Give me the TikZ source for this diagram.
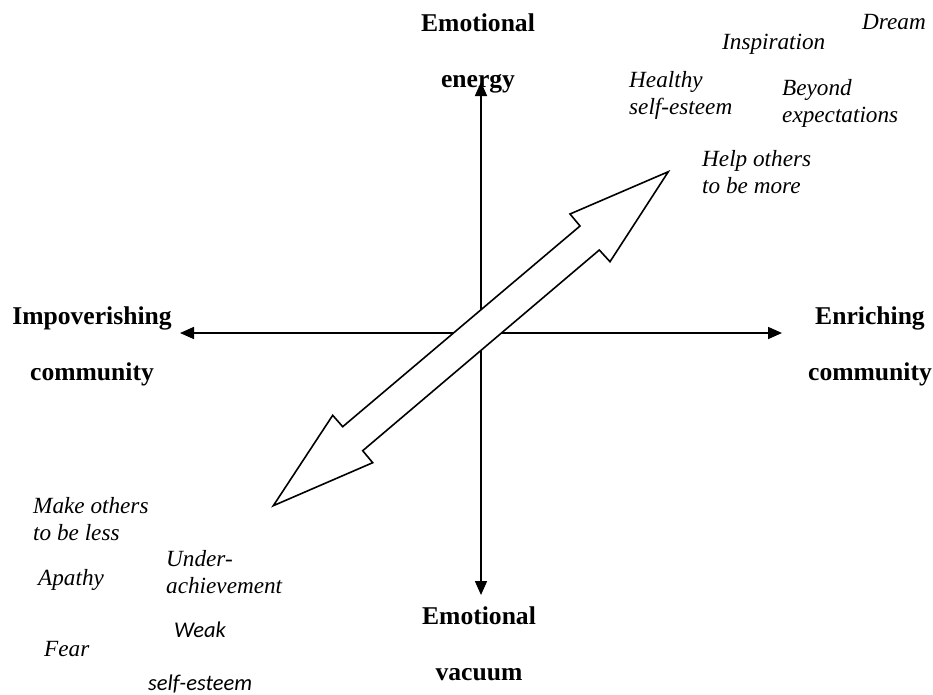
\documentclass[tikz,border=0pt]{standalone}
\usepackage{fontspec}
\setmainfont{Liberation Serif}
\newfontfamily\notesans{Carlito}
\usetikzlibrary{arrows.meta}
\begin{document}
\begin{tikzpicture}[x=1pt,y=-1pt,
  axis/.style={line width=1.6pt,
    {Triangle[length=14pt,width=12pt]}-{Triangle[length=14pt,width=12pt]}},
  pole/.style={font=\fontsize{25.6}{56}\selectfont\bfseries, align=center,
    inner sep=0pt, anchor=base},
  note/.style={font=\fontsize{23.2}{26.5}\selectfont\itshape, align=left,
    inner sep=0pt, anchor=base west},
  sansnote/.style={font=\notesans\fontsize{22.5}{26}\selectfont\itshape,
    inner sep=0pt, anchor=base west},
  band/.style={line width=1.6pt, fill=white, line join=miter}]

% canvas
\fill[white] (0,0) rectangle (933,694);
\useasboundingbox (0,0) rectangle (933,694);

% axis end points
\coordinate (yTop) at (481,82);
\coordinate (yBot) at (481,595);
\coordinate (xLeft) at (180,333);
\coordinate (xRight) at (782,333);

% axes
\draw[axis] (yBot) -- (yTop);
\draw[axis] (xLeft) -- (xRight);

% double-headed block arrow across the centre
\draw[band] (668.3,171.7) -- (570,214) -- (580,226) -- (342.7,426.7)
  -- (332.7,415.3) -- (273.3,505.7) -- (372.7,462.7) -- (362.7,450.7)
  -- (599.3,250) -- (610,261.7) -- cycle;

% pole labels (positioned by the baseline of their last line)
\node[pole] (energy) at (478,87) {Emotional\\energy};
\node[pole] (vacuum) at (479,680) {Emotional\\vacuum};
\node[pole] (impov) at (92,380) {Impoverishing\\community};
\node[pole] (enrich) at (870,380) {Enriching\\community};

% upper-right qualities
\node[note] (dream) at (862,29) {Dream};
\node[note] (inspir) at (722,49) {Inspiration};
\node[note] (healthy) at (629,114) {Healthy\\self-esteem};
\node[note] (beyond) at (782,122) {Beyond\\expectations};
\node[note] (helpmore) at (702,193) {Help others\\to be more};

% lower-left qualities
\node[note] (makeless) at (33,540) {Make others\\to be less};
\node[note] (apathy) at (38,585) {Apathy};
\node[note] (under) at (166,593) {Under-\\achievement};
\node[note] (fear) at (44,656) {Fear};
\node[sansnote] (weak) at (174,637) {Weak};
\node[sansnote] (weakself) at (148,690) {self-esteem};
\end{tikzpicture}
\end{document}
